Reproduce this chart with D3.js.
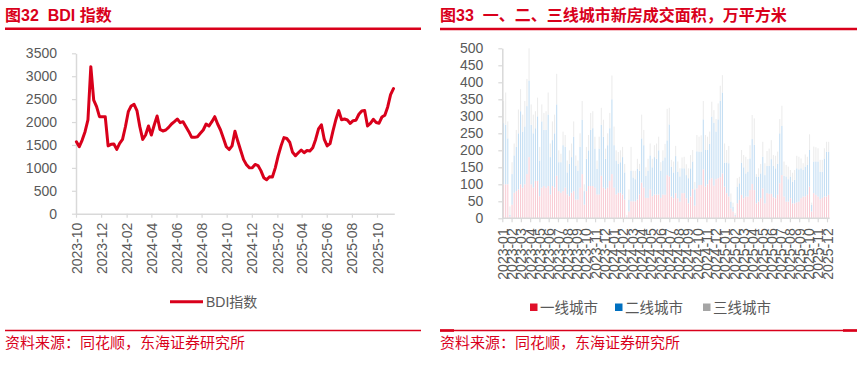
<!DOCTYPE html>
<html>
<head>
<meta charset="utf-8">
<script src="https://cdn.jsdelivr.net/npm/d3@7"></script>
<style>
  html, body { margin: 0; padding: 0; background: #fff; }
  svg { display: block; font-family: "Liberation Sans", Arial, "Noto Sans CJK SC", sans-serif; }
  .title { white-space: pre; }
</style>
</head>
<body>
<svg id="chart" width="861" height="365"></svg>
<script>
// ---- 图32 BDI 指数 (weekly, from 2023-10-02) ----
const bdiStart = '2023-10-02'
const bdiValues = [
  1571, 1462, 1607, 1790, 2045, 3208, 2480, 2335, 2117, 2117, 2117, 1480, 1513, 1520, 1404, 1535,
  1622, 1898, 2226, 2350, 2386, 2250, 1900, 1622, 1717, 1913, 1717, 1935, 2131, 1840, 1804, 1826,
  1884, 1957, 2008, 2066, 1986, 2008, 1898, 1790, 1666, 1666, 1680, 1754, 1826, 1957, 1913, 2008,
  2117, 1957, 1826, 1644, 1462, 1400, 1480, 1800, 1580, 1380, 1180, 1070, 1000, 1005, 1075, 1050,
  940, 786, 740, 805, 800, 1000, 1260, 1480, 1660, 1640, 1560, 1340, 1265, 1330, 1390, 1330,
  1380, 1370, 1440, 1620, 1850, 1940, 1620, 1480, 1530, 1800, 2050, 2250, 2050, 2066, 2044, 1970,
  2030, 2040, 2170, 2240, 2250, 1915, 1970, 2060, 1990, 1975, 2110, 2150, 2330, 2600, 2730
]
const bdiTicks = ['2023-10', '2023-12', '2024-02', '2024-04', '2024-06', '2024-08', '2024-10',
  '2024-12', '2025-02', '2025-04', '2025-06', '2025-08', '2025-10']
const bdiYTicks = [0, 500, 1000, 1500, 2000, 2500, 3000, 3500]

// ---- 图33 一、二、三线城市新房成交面积 (weekly, 万平方米) ----
const cityMonths = ['2023-01', '2023-02', '2023-03', '2023-04', '2023-05', '2023-06', '2023-07', '2023-08',
  '2023-09', '2023-10', '2023-11', '2023-12', '2024-01', '2024-02', '2024-03', '2024-04', '2024-05',
  '2024-06', '2024-07', '2024-08', '2024-09', '2024-10', '2024-11', '2024-12', '2025-01', '2025-02',
  '2025-03', '2025-04', '2025-05', '2025-06', '2025-07', '2025-08', '2025-09', '2025-10', '2025-11', '2025-12']
const cityNames = ['一线城市', '二线城市', '三线城市']
const tier1 = [
  100, 100, 100, 5, 40, 75, 80, 85, 100, 90, 100, 130, 180, 100, 90, 110, 110, 65, 90, 95, 90, 95,
  70, 95, 90, 125, 80, 75, 80, 90, 70, 65, 75, 80, 55, 55, 90, 130, 40, 80, 95, 95, 95, 90, 70, 70,
  125, 90, 85, 90, 110, 130, 90, 70, 75, 75, 70, 55, 3, 20, 50, 50, 50, 55, 70, 105, 90, 60, 60, 85,
  65, 70, 70, 70, 60, 70, 69, 127, 123, 64, 59, 74, 59, 49, 74, 74, 59, 44, 64, 86, 37, 88, 98, 98,
  144, 93, 100, 113, 118, 96, 115, 118, 121, 132, 93, 74, 64, 29, 20, 7, 44, 54, 69, 59, 64, 64, 83,
  101, 83, 44, 49, 59, 88, 44, 74, 72, 72, 62, 59, 69, 103, 127, 64, 49, 49, 59, 44, 44, 47, 49, 59,
  64, 64, 69, 93, 20, 74, 69, 64, 56, 60, 64, 64, 69
]
const tier2 = [
  180, 175, 135, 5, 90, 110, 130, 165, 215, 165, 170, 200, 225, 175, 160, 155, 190, 105, 195, 165,
  170, 210, 110, 135, 160, 210, 85, 90, 135, 120, 65, 95, 105, 160, 100, 85, 120, 160, 40, 95, 105,
  165, 170, 115, 75, 135, 150, 150, 90, 125, 155, 220, 125, 100, 85, 90, 110, 80, 2, 35, 90, 70, 65,
  90, 70, 130, 125, 65, 80, 100, 85, 110, 105, 130, 80, 100, 110, 102, 153, 88, 76, 109, 78, 74, 73,
  73, 68, 74, 83, 81, 48, 109, 98, 98, 147, 108, 101, 106, 181, 185, 140, 173, 224, 238, 71, 90, 98,
  20, 14, 3, 49, 49, 95, 91, 68, 73, 93, 132, 133, 79, 74, 73, 93, 83, 80, 82, 102, 92, 88, 91, 147,
  145, 61, 74, 66, 64, 64, 69, 100, 95, 88, 78, 88, 88, 108, 20, 93, 98, 103, 81, 77, 112, 132, 127
]
const tier3 = [
  65, 95, 50, 25, 35, 35, 50, 70, 65, 50, 75, 80, 95, 60, 55, 50, 55, 40, 50, 50, 55, 65, 40, 55, 55,
  90, 35, 25, 40, 35, 35, 40, 40, 45, 30, 30, 40, 55, 20, 35, 45, 50, 50, 35, 25, 35, 50, 50, 30, 35,
  45, 70, 55, 30, 35, 35, 30, 25, 5, 30, 70, 20, 25, 30, 20, 70, 45, 25, 35, 35, 25, 35, 45, 40, 25,
  30, 40, 93, 49, 20, 32, 30, 30, 24, 32, 34, 32, 29, 39, 34, 22, 48, 44, 48, 54, 44, 39, 36, 44, 37,
  37, 47, 45, 51, 56, 37, 51, 24, 12, 5, 25, 19, 37, 36, 49, 37, 39, 71, 78, 7, 24, 28, 44, 35, 44,
  51, 56, 32, 37, 36, 42, 59, 42, 34, 37, 19, 26, 29, 37, 37, 29, 20, 36, 24, 46, 6, 44, 42, 39, 35,
  35, 30, 29, 29
]
const cityYTicks = [0, 50, 100, 150, 200, 250, 300, 350, 400, 450, 500]

const RED = '#d9001b'
const TXT = '#595959'
const AXIS = '#d9d9d9'
const svg = d3.select('#chart')

function styleAxis (g) {
  g.select('.domain').attr('stroke', AXIS).attr('stroke-width', 1.5)
  g.selectAll('.tick line').attr('stroke', AXIS).attr('stroke-width', 1.2)
  g.selectAll('.tick text').attr('fill', TXT).attr('font-size', 14)
}

//Titre + filets rouges
function appendFrame (x0, x1, title, lineY) {
  svg.append('text').attr('class', 'title').attr('x', x0).attr('y', 21).attr('fill', RED)
    .attr('font-size', 16).attr('font-weight', 'bold').text(title)
  svg.append('line').attr('x1', x0).attr('x2', x1).attr('y1', lineY).attr('y2', lineY)
    .attr('stroke', RED).attr('stroke-width', 2.5)
  svg.append('line').attr('x1', x0).attr('x2', x1).attr('y1', 330.5).attr('y2', 330.5)
    .attr('stroke', RED).attr('stroke-width', 1.3)
  svg.append('text').attr('x', x0).attr('y', 348).attr('fill', RED)
    .attr('font-size', 15).text('资料来源：同花顺，东海证券研究所')
}

appendFrame(5, 421, '图32  BDI 指数', 28.8)
appendFrame(440, 857, '图33  一、二、三线城市新房成交面积，万平方米', 29)
svg.append('rect').attr('x', 440).attr('y', 329.2).attr('width', 14).attr('height', 2.6).attr('fill', RED)
svg.append('rect').attr('x', 843).attr('y', 329.2).attr('width', 14).attr('height', 2.6).attr('fill', RED)

// ---------- BDI ----------
const parse = d3.utcParse('%Y-%m-%d')
const t0 = parse(bdiStart)
const bdiData = bdiValues.map((v, i) => ({ date: d3.utcDay.offset(t0, 7 * i), value: v }))

const xB = d3.scaleUtc()
  .domain([parse('2023-10-01'), parse('2025-11-12')])
  .range([76, 76 + 773 * (301 / 731)])
const yB = d3.scaleLinear().domain([0, 3500]).range([213.7, 53.3])

const gxB = svg.append('g').attr('transform', 'translate(0,213.7)')
  .call(d3.axisBottom(xB)
    .tickValues(bdiTicks.map(s => parse(s + '-01')))
    .tickFormat(d3.utcFormat('%Y-%m'))
    .tickSize(4).tickSizeOuter(0))
styleAxis(gxB)
gxB.selectAll('.tick text')
  .attr('transform', 'rotate(-90)')
  .attr('text-anchor', 'end')
  .attr('x', -9).attr('y', 0).attr('dy', '0.36em')

const gyB = svg.append('g').attr('transform', 'translate(76,0)')
  .call(d3.axisLeft(yB).tickValues(bdiYTicks).tickFormat(d3.format('d'))
    .tickSize(4).tickSizeOuter(0).tickPadding(15))
styleAxis(gyB)

svg.append('path').datum(bdiData)
  .attr('fill', 'none').attr('stroke', RED).attr('stroke-width', 3)
  .attr('stroke-linejoin', 'round').attr('stroke-linecap', 'round')
  .attr('d', d3.line().x(d => xB(d.date)).y(d => yB(d.value)))

// legend
svg.append('line').attr('x1', 170).attr('x2', 203).attr('y1', 301.7).attr('y2', 301.7)
  .attr('stroke', RED).attr('stroke-width', 3)
svg.append('text').attr('x', 206).attr('y', 307).attr('fill', TXT).attr('font-size', 14).text('BDI指数')

// ---------- 城市新房成交面积 ----------
const weeks = d3.range(tier1.length)
const cityData = weeks.map(i => ({ i, t1: tier1[i], t2: tier2[i], t3: tier3[i] }))
const stack = d3.stack().keys(['t1', 't2', 't3'])(cityData)

const xC = d3.scaleBand().domain(weeks).range([502.6, 829.6]).paddingInner(0.5).paddingOuter(0.2)
const xM = d3.scalePoint().domain(cityMonths).range([502.3, 827])
const yC = d3.scaleLinear().domain([0, 500]).range([218.3, 48.3])
const barColors = ['#f8cbd4', '#c2ddf3', '#ececec']
const legendColors = ['#e0102a', '#0070c0', '#a5a5a5']

svg.append('g').selectAll('g').data(stack).join('g')
  .attr('fill', (d, k) => barColors[k])
  .selectAll('rect').data(d => d).join('rect')
  .attr('x', d => xC(d.data.i))
  .attr('width', xC.bandwidth())
  .attr('y', d => yC(d[1]))
  .attr('height', d => yC(d[0]) - yC(d[1]))

const gxC = svg.append('g').attr('transform', 'translate(0,218.3)')
  .call(d3.axisBottom(xM).tickSize(4).tickSizeOuter(0))
styleAxis(gxC)
gxC.select('.domain').attr('d', 'M502.3,0H829.6')
gxC.selectAll('.tick text')
  .attr('transform', 'rotate(-90)')
  .attr('text-anchor', 'end')
  .attr('x', -10).attr('y', 0).attr('dy', '0.36em')

const gyC = svg.append('g').attr('transform', 'translate(502.3,0)')
  .call(d3.axisLeft(yC).tickValues(cityYTicks).tickSize(4).tickSizeOuter(0).tickPadding(15))
styleAxis(gyC)

// legend
const legX = [530, 615, 703]
cityNames.forEach((name, k) => {
  svg.append('rect').attr('x', legX[k]).attr('y', 303.5).attr('width', 7.5).attr('height', 7.5)
    .attr('fill', legendColors[k])
  svg.append('text').attr('x', legX[k] + 10).attr('y', 312.5).attr('fill', TXT)
    .attr('font-size', 14.5).text(name)
})
</script>
</body>
</html>
